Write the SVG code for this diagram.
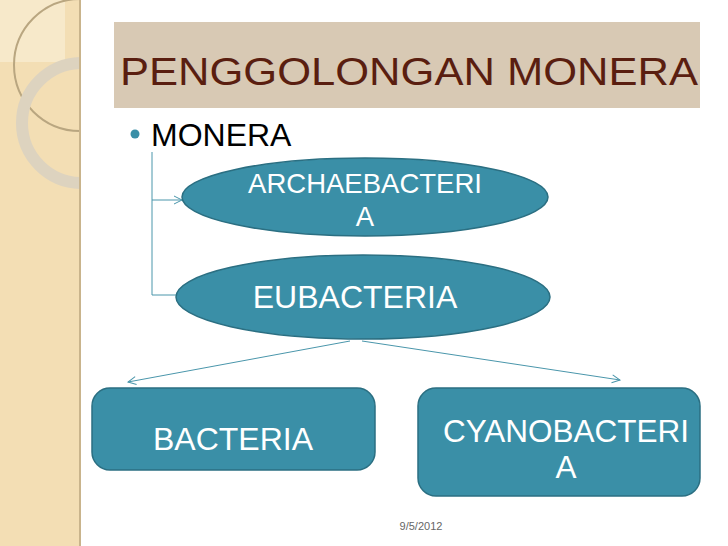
<svg xmlns="http://www.w3.org/2000/svg" width="728" height="546" viewBox="0 0 728 546">
<style>
.n{fill:#3a8fa7;stroke:#2b6f82;stroke-width:1.5}
.t{font-family:"Liberation Sans",Arial,sans-serif;fill:#fff}
.c{stroke:#4a96ab;stroke-width:1;fill:none}
</style>
<defs><marker id="a" markerWidth="10" markerHeight="10" refX="9" refY="5" orient="auto" markerUnits="userSpaceOnUse"><path d="M1,1L9,5L1,9" fill="none" stroke="#4a96ab"/></marker>
<clipPath id="p"><rect width="80" height="546"/></clipPath></defs>
<rect width="728" height="546" fill="#fff"/>
<rect width="80" height="546" fill="#f3deb4"/>
<g clip-path="url(#p)">
<rect x="0" y="0" width="65" height="62" fill="#f8ebcf" opacity="0.8"/>
<circle cx="80" cy="65" r="66" fill="none" stroke="#b9a680" stroke-width="2"/>
<circle cx="82" cy="123" r="60" fill="none" stroke="#ddd3bf" stroke-width="12"/>
</g>
<rect x="79" width="2" height="546" fill="#c9b48c"/>
<rect x="114" y="22" width="586" height="86" fill="#d8c9b4"/>
<text x="120" y="85" font-family="Liberation Sans,Arial,sans-serif" font-size="38" textLength="578" lengthAdjust="spacingAndGlyphs" fill="#5a1e10">PENGGOLONGAN MONERA</text>
<circle cx="135" cy="134" r="4.5" fill="#3a8fa7"/>
<text x="151" y="146" font-family="Liberation Sans,Arial,sans-serif" font-size="32" fill="#000">MONERA</text>
<g id="connectors">
<path class="c" d="M152,152V295H176"/>
<path class="c" d="M152,200H182" marker-end="url(#a)"/>
<path class="c" d="M350,341L128,382" marker-end="url(#a)"/>
<path class="c" d="M362,341L620,380" marker-end="url(#a)"/>
</g>
<g id="archaebacteria"><ellipse class="n" cx="365" cy="197" rx="183" ry="39"/>
<text class="t" font-size="27.5" text-anchor="middle"><tspan x="365" y="193">ARCHAEBACTERI</tspan><tspan x="365" y="226">A</tspan></text></g>
<g id="eubacteria"><ellipse class="n" cx="363" cy="297" rx="187" ry="42"/>
<text class="t" font-size="32" text-anchor="middle" x="355" y="308">EUBACTERIA</text></g>
<g id="bacteria"><rect class="n" x="92" y="388" width="283" height="82" rx="18"/>
<text class="t" font-size="32" x="153" y="450">BACTERIA</text></g>
<g id="cyanobacteria"><rect class="n" x="418" y="388" width="282" height="108" rx="18"/>
<text class="t" font-size="31.5" text-anchor="middle"><tspan x="566" y="442">CYANOBACTERI</tspan><tspan x="566" y="478">A</tspan></text></g>
<text x="421" y="530" font-family="Liberation Sans,Arial,sans-serif" font-size="11" fill="#666" text-anchor="middle">9/5/2012</text>
</svg>
